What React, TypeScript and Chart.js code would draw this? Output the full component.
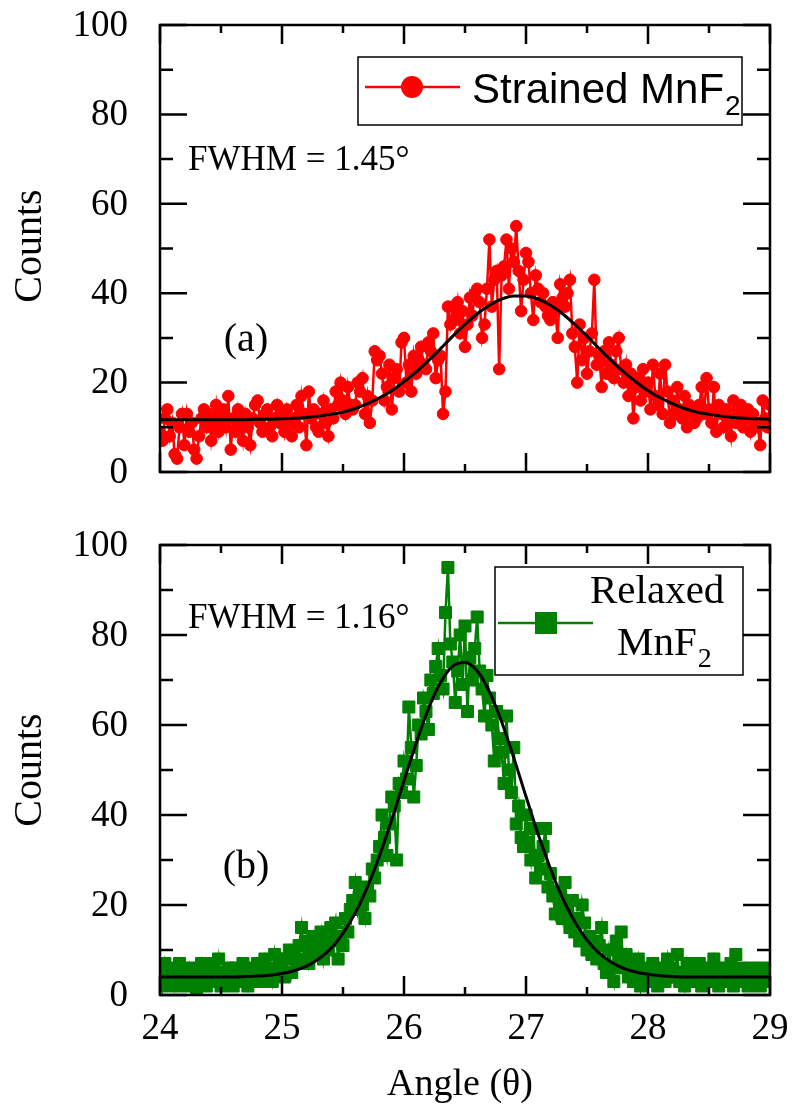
import React, { useEffect, useRef } from "react";
import { Chart, registerables } from "chart.js";

Chart.register(...registerables);

// ---------- data ----------
const ANGLE_START = 24;
const ANGLE_STEP = 0.02;

// Strained MnF2 counts, 24.00 .. 29.00 step 0.02
const STRAINED_COUNTS = [
  9, 7, 12, 14, 8, 11, 4, 3, 10, 13,
  6, 13, 9, 11, 5, 3, 8, 12, 14, 10,
  13, 7, 11, 15, 9, 12, 14, 10, 17, 5,
  12, 9, 14, 11, 7, 13, 10, 6, 12, 15,
  16, 11, 9, 13, 14, 10, 8, 12, 15, 11,
  13, 9, 14, 11, 8, 12, 15, 10, 17, 13,
  6, 18, 12, 14, 10, 9, 13, 16, 11, 8,
  14, 12, 18, 15, 20, 16, 13, 19, 15, 14,
  15, 20, 18, 21, 13, 17, 11, 16, 27, 25,
  26, 22, 16, 19, 24, 14, 21, 23, 18, 29,
  30, 20, 24, 18, 26, 22, 25, 28, 24, 23,
  29, 27, 31, 21, 25, 26, 13, 18, 37, 33,
  37, 34, 38, 31, 36, 28, 33, 39, 35, 40,
  41, 38, 30, 33, 41, 52, 37, 43, 45, 23,
  44, 46, 52, 41, 50, 47, 55, 45, 36, 43,
  49, 47, 40, 34, 44, 41, 38, 40, 37, 35,
  34, 38, 36, 30, 42, 39, 37, 40, 43, 31,
  28, 20, 33, 25, 30, 22, 27, 31, 43, 24,
  26, 19, 27, 22, 29, 24, 21, 27, 30, 23,
  20, 24, 17, 22, 12, 19, 21, 16, 23, 18,
  20, 14, 24, 17, 15, 22, 13, 24, 18, 11,
  16, 13, 19, 14, 12, 17, 10, 15, 13, 11,
  12, 15, 19, 13, 21, 14, 11, 19, 9, 15,
  13, 10, 14, 12, 8, 16, 11, 13, 15, 10,
  12, 14, 9, 13, 11, 10, 6, 16, 12, 10, 15,
];

// Relaxed MnF2 counts, 24.00 .. 29.00 step 0.02
const RELAXED_COUNTS = [
  6, 2, 7, 4, 3, 5, 2, 6, 7, 3,
  4, 2, 6, 3, 5, 1, 4, 7, 3, 2,
  5, 3, 7, 4, 8, 2, 5, 3, 6, 4,
  2, 6, 4, 3, 7, 5, 2, 6, 4, 5,
  7, 3, 5, 8, 4, 6, 3, 9, 5, 8,
  6, 4, 8, 10, 5, 9, 7, 11, 15, 8,
  12, 7, 10, 13, 9, 11, 14, 8, 12, 10,
  15, 12, 16, 8, 13, 11, 17, 14, 19, 21,
  25, 19, 23, 20, 17, 24, 22, 28, 26, 30,
  33, 40, 35, 31, 38, 44, 42, 30, 47, 45,
  52, 48, 64, 55, 44, 51, 60, 58, 66, 63,
  59, 70, 67, 73, 77, 71, 68, 85, 95, 78,
  74, 65, 72, 80, 69, 82, 63, 75, 70, 77,
  84, 72, 68, 62, 71, 66, 60, 52, 63, 57,
  54, 47, 62, 50, 45, 55, 38, 42, 35, 33,
  40, 34, 30, 37, 26, 31, 28, 33, 37, 24,
  27, 22, 18, 23, 20, 17, 25, 19, 15, 21,
  14, 17, 12, 20, 16, 10, 13, 9, 12, 8,
  11, 15, 7, 5, 10, 6, 3, 12, 8, 14,
  6, 9, 4, 7, 3, 5, 8, 2, 6, 4,
  5, 3, 7, 4, 2, 6, 5, 3, 8, 4,
  6, 4, 9, 3, 5, 2, 7, 4, 6, 3,
  5, 7, 2, 4, 6, 3, 5, 8, 4, 2,
  6, 3, 5, 4, 7, 2, 9, 4, 3, 6,
  4, 2, 5, 3, 6, 4, 2, 5, 3, 6, 4,
];

const FIT_ANGLES = [
  24.0, 24.1, 24.2, 24.3, 24.4, 24.5, 24.6, 24.7, 24.8, 24.9,
  25.0, 25.1, 25.2, 25.3, 25.4, 25.5, 25.6, 25.7, 25.8, 25.9,
  26.0, 26.1, 26.2, 26.3, 26.4, 26.5, 26.6, 26.7, 26.8, 26.9,
  27.0, 27.1, 27.2, 27.3, 27.4, 27.5, 27.6, 27.7, 27.8, 27.9,
  28.0, 28.1, 28.2, 28.3, 28.4, 28.5, 28.6, 28.7, 28.8, 28.9, 29.0,
];

const STRAINED_FIT = [
  11.7, 11.7, 11.7, 11.7, 11.7, 11.7, 11.7, 11.7, 11.8, 11.8,
  11.9, 12.0, 12.2, 12.5, 12.9, 13.4, 14.2, 15.3, 16.6, 18.2,
  20.2, 22.4, 24.9, 27.6, 30.4, 33.0, 35.4, 37.3, 38.7, 39.4,
  39.4, 38.7, 37.3, 35.4, 33.0, 30.4, 27.6, 24.9, 22.4, 20.2,
  18.2, 16.6, 15.3, 14.2, 13.4, 12.9, 12.5, 12.2, 12.0, 11.9, 11.8,
];

const RELAXED_FIT = [
  4.0, 4.0, 4.0, 4.0, 4.0, 4.0, 4.0, 4.1, 4.2, 4.4,
  4.8, 5.4, 6.4, 8.0, 10.3, 13.7, 18.2, 24.0, 31.0, 39.0,
  47.6, 56.0, 63.6, 69.5, 73.1, 73.9, 72.0, 67.4, 60.7, 52.7,
  44.1, 35.7, 28.1, 21.5, 16.3, 12.2, 9.3, 7.3, 5.9, 5.1,
  4.6, 4.3, 4.1, 4.0, 4.0, 4.0, 4.0, 4.0, 4.0, 4.0, 4.0,
];

const X_MAJOR = [24, 25, 26, 27, 28, 29];
const X_MINOR = [24.5, 25.5, 26.5, 27.5, 28.5];
const Y_MAJOR = [0, 20, 40, 60, 80, 100];
const Y_MINOR = [10, 30, 50, 70, 90];

const X_TITLE = "Angle (\u03B8)";
const Y_TITLE = "Counts";

// ---------- styles ----------
const SERIF = '"Liberation Serif", "Times New Roman", serif';
const SANS = '"Liberation Sans", Arial, sans-serif';
const RED = "#ff0000";
const GREEN = "#008000";

type PanelCfg = {
  panelLabel: string;
  labelPos: [number, number];
  fwhm: string;
  fwhmPos: [number, number];
  legend: "strained" | "relaxed";
  showXLabels: boolean;
  titleY: number;
};

function makePanelPlugin(cfg: PanelCfg) {
  return {
    id: "panelDecor",
    afterDraw(chart: any) {
      const ctx: CanvasRenderingContext2D = chart.ctx;
      const xs = chart.scales.x;
      const ys = chart.scales.y;
      const { left, right, top, bottom } = chart.chartArea;
      ctx.save();
      ctx.strokeStyle = "#000";
      ctx.fillStyle = "#000";
      ctx.lineWidth = 2.5;
      // frame
      ctx.strokeRect(left, top, right - left, bottom - top);
      // ticks
      ctx.beginPath();
      const yTick = (v: number, len: number) => {
        const p = ys.getPixelForValue(v);
        ctx.moveTo(left, p);
        ctx.lineTo(left + len, p);
        ctx.moveTo(right, p);
        ctx.lineTo(right - len, p);
      };
      const xTick = (v: number, len: number) => {
        const p = xs.getPixelForValue(v);
        ctx.moveTo(p, bottom);
        ctx.lineTo(p, bottom - len);
        ctx.moveTo(p, top);
        ctx.lineTo(p, top + len);
      };
      Y_MAJOR.forEach((v) => yTick(v, 27));
      Y_MINOR.forEach((v) => yTick(v, 13));
      X_MAJOR.forEach((v) => xTick(v, 19));
      X_MINOR.forEach((v) => xTick(v, 8));
      ctx.stroke();

      // y tick labels
      ctx.font = `37px ${SERIF}`;
      ctx.textAlign = "right";
      ctx.textBaseline = "middle";
      Y_MAJOR.forEach((v) => {
        ctx.fillText(String(v), 128, ys.getPixelForValue(v) + 1);
      });
      // x tick labels
      if (cfg.showXLabels) {
        ctx.textAlign = "center";
        ctx.textBaseline = "top";
        X_MAJOR.forEach((v) => {
          ctx.fillText(String(v), xs.getPixelForValue(v), bottom + 16);
        });
        ctx.font = `38px ${SERIF}`;
        ctx.textBaseline = "middle";
        ctx.fillText(X_TITLE, (left + right) / 2 - 5, bottom + 90);
      }
      // y title
      ctx.save();
      ctx.translate(30, cfg.titleY);
      ctx.rotate(-Math.PI / 2);
      ctx.font = `40px ${SERIF}`;
      ctx.textAlign = "center";
      ctx.textBaseline = "middle";
      ctx.fillText(Y_TITLE, 0, 0);
      ctx.restore();

      // panel label & FWHM
      ctx.font = `40px ${SERIF}`;
      ctx.textAlign = "center";
      ctx.textBaseline = "middle";
      ctx.fillText(cfg.panelLabel, cfg.labelPos[0], cfg.labelPos[1]);
      ctx.font = `35px ${SERIF}`;
      ctx.textAlign = "left";
      ctx.textBaseline = "alphabetic";
      ctx.fillText(cfg.fwhm, cfg.fwhmPos[0], cfg.fwhmPos[1]);

      // legend
      ctx.lineWidth = 1.5;
      if (cfg.legend === "strained") {
        const bx = 358, by = 57, bw = 384, bh = 68;
        ctx.fillStyle = "#fff";
        ctx.fillRect(bx, by, bw, bh);
        ctx.strokeStyle = "#000";
        ctx.strokeRect(bx, by, bw, bh);
        const ly = 87;
        ctx.strokeStyle = RED;
        ctx.lineWidth = 2.5;
        ctx.beginPath();
        ctx.moveTo(365, ly);
        ctx.lineTo(460, ly);
        ctx.stroke();
        ctx.fillStyle = RED;
        ctx.beginPath();
        ctx.arc(412, ly, 11, 0, Math.PI * 2);
        ctx.fill();
        ctx.fillStyle = "#000";
        ctx.font = `42px ${SANS}`;
        ctx.textAlign = "left";
        ctx.textBaseline = "alphabetic";
        const main = "Strained MnF";
        ctx.fillText(main, 472, 103);
        const w = ctx.measureText(main).width;
        ctx.font = `28px ${SANS}`;
        ctx.fillText("2", 472 + w + 1, 115);
      } else {
        const bx = 495, by = 47, bw = 248, bh = 108;
        ctx.fillStyle = "#fff";
        ctx.fillRect(bx, by, bw, bh);
        ctx.strokeStyle = "#000";
        ctx.strokeRect(bx, by, bw, bh);
        const ly = 103;
        ctx.strokeStyle = GREEN;
        ctx.lineWidth = 2.5;
        ctx.beginPath();
        ctx.moveTo(498, ly);
        ctx.lineTo(593, ly);
        ctx.stroke();
        ctx.fillStyle = GREEN;
        ctx.fillRect(546 - 11, ly - 11, 22, 22);
        ctx.fillStyle = "#000";
        ctx.font = `41px ${SERIF}`;
        ctx.textAlign = "left";
        ctx.textBaseline = "alphabetic";
        ctx.fillText("Relaxed", 590, 83);
        ctx.fillText("MnF", 617, 135);
        const w = ctx.measureText("MnF").width;
        ctx.font = `28px ${SERIF}`;
        ctx.fillText("2", 617 + w + 1, 147);
      }
      ctx.restore();
    },
  };
}

function toPoints(values: number[]) {
  return values.map((v, i) => ({ x: +(ANGLE_START + i * ANGLE_STEP).toFixed(2), y: v }));
}

function fitPoints(values: number[]) {
  return FIT_ANGLES.map((a, i) => ({ x: a, y: values[i] }));
}

function makeConfig(
  counts: number[],
  fit: number[],
  color: string,
  pointStyle: string,
  radius: number,
  padding: { left: number; right: number; top: number; bottom: number },
  cfg: PanelCfg
): any {
  return {
    type: "scatter",
    data: {
      datasets: [
        {
          label: "fit",
          data: fitPoints(fit),
          showLine: true,
          borderColor: "#000",
          borderWidth: 3,
          pointRadius: 0,
          cubicInterpolationMode: "monotone",
          order: 0,
        },
        {
          label: "data",
          data: toPoints(counts),
          showLine: true,
          borderColor: color,
          backgroundColor: color,
          borderWidth: 2.5,
          pointRadius: radius,
          pointStyle,
          pointBorderWidth: 1,
          pointBorderColor: color,
          pointBackgroundColor: color,
          order: 1,
        },
      ],
    },
    options: {
      responsive: false,
      maintainAspectRatio: false,
      animation: false,
      events: [],
      layout: { padding },
      plugins: { legend: { display: false }, tooltip: { enabled: false } },
      scales: {
        x: { type: "linear", min: 24, max: 29, display: false },
        y: { type: "linear", min: 0, max: 100, display: false },
      },
    },
    plugins: [makePanelPlugin(cfg)],
  };
}

export default function App() {
  const topRef = useRef<HTMLCanvasElement>(null);
  const botRef = useRef<HTMLCanvasElement>(null);

  useEffect(() => {
    const c1 = new Chart(
      topRef.current!,
      makeConfig(
        STRAINED_COUNTS,
        STRAINED_FIT,
        RED,
        "circle",
        5.8,
        { left: 160, right: 22, top: 25, bottom: 48 },
        {
          panelLabel: "(a)",
          labelPos: [246, 340],
          fwhm: "FWHM = 1.45\u00B0",
          fwhmPos: [188, 170],
          legend: "strained",
          showXLabels: false,
          titleY: 246,
        }
      )
    );
    const c2 = new Chart(
      botRef.current!,
      makeConfig(
        RELAXED_COUNTS,
        RELAXED_FIT,
        GREEN,
        "rect",
        8.5,
        { left: 160, right: 22, top: 25, bottom: 118 },
        {
          panelLabel: "(b)",
          labelPos: [246, 347],
          fwhm: "FWHM = 1.16\u00B0",
          fwhmPos: [188, 108],
          legend: "relaxed",
          showXLabels: true,
          titleY: 250,
        }
      )
    );
    return () => {
      c1.destroy();
      c2.destroy();
    };
  }, []);

  return (
    <div style={{ position: "absolute", left: 0, top: 0, width: 792, height: 1113, background: "#fff" }}>
      <canvas ref={topRef} width={792} height={520} style={{ position: "absolute", left: 0, top: 0, width: 792, height: 520 }} />
      <canvas ref={botRef} width={792} height={593} style={{ position: "absolute", left: 0, top: 520, width: 792, height: 593 }} />
    </div>
  );
}
